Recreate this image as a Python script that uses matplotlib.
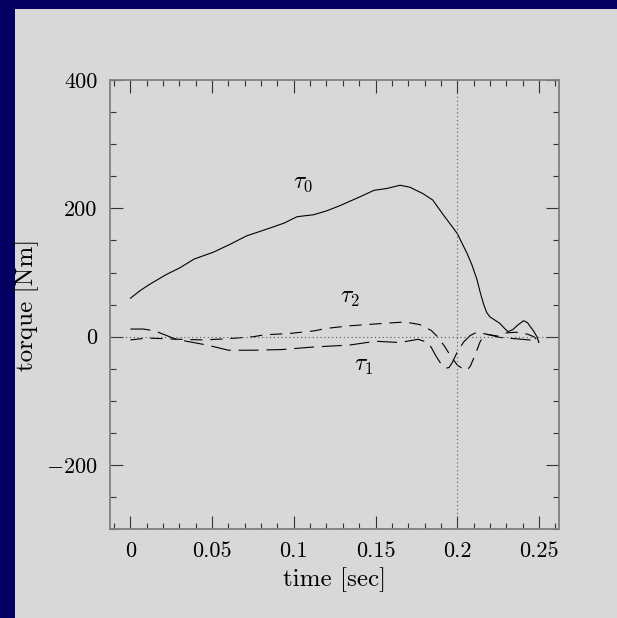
import numpy as np
import matplotlib.pyplot as plt
from matplotlib.patches import Rectangle
from matplotlib.ticker import MultipleLocator

plt.rcParams['font.family'] = ['cmr10', 'DejaVu Serif']
plt.rcParams['mathtext.fontset'] = 'cm'

# tau_0 (solid)
t0_time = [0, 0.006, 0.012, 0.022, 0.030, 0.039, 0.051, 0.061, 0.071, 0.085, 0.094,
           0.102, 0.112, 0.120, 0.128, 0.1405, 0.149, 0.157, 0.165, 0.171, 0.179,
           0.185, 0.1915, 0.200, 0.206, 0.209, 0.212, 0.214, 0.216, 0.218, 0.220,
           0.223, 0.226, 0.229, 0.231, 0.234, 0.237, 0.2406, 0.243, 0.2447, 0.247,
           0.2488, 0.250]
t0_vals = [60, 72, 82, 97, 107, 121, 132, 144, 157, 169, 177,
           187, 190, 196, 204, 218, 228, 231, 236, 233, 223,
           213, 190, 161, 130, 112, 90, 70, 52, 38, 31,
           26, 21, 13, 8, 11, 18, 25, 22, 16, 8,
           0, -9]

# tau_1 (long dash)
t1_time = [0, 0.008, 0.015, 0.028, 0.047, 0.060, 0.075, 0.0925, 0.112, 0.134, 0.150,
           0.165, 0.176, 0.181, 0.184, 0.187, 0.190, 0.193, 0.195, 0.197, 0.200,
           0.204, 0.208, 0.212, 0.218, 0.226, 0.235, 0.2488, 0.250]
t1_vals = [12, 12, 9, -4, -13, -21, -21, -20, -16, -13, -7,
           -9, -4, -8, -16, -30, -42, -49, -48, -40, -24,
           -8, 2, 7, 4, -1, -3, -6, -8]

# tau_2 (short dash)
t2_time = [0, 0.010, 0.030, 0.045, 0.060, 0.075, 0.082, 0.097, 0.112, 0.120, 0.134,
           0.145, 0.156, 0.168, 0.177, 0.184, 0.188, 0.192, 0.196, 0.200, 0.204,
           0.206, 0.208, 0.211, 0.214, 0.217, 0.220, 0.225, 0.230, 0.236, 0.243,
           0.247, 0.250]
t2_vals = [-5, -2, -4, -5, -3, 0, 3, 5, 9, 13, 17,
           19, 21, 23, 19, 10, 0, -14, -30, -44, -51,
           -52, -46, -28, -8, 4, 3, 1, 6, 7, 4,
           0, -8]

xticks = [0, 0.05, 0.1, 0.15, 0.2, 0.25]
xtick_labels = ["0", "0.05", "0.1", "0.15", "0.2", "0.25"]
yticks = [-200, 0, 200, 400]
ytick_labels = [r"$-$200", "0", "200", "400"]

fig = plt.figure(figsize=(6.17, 6.18), dpi=100, facecolor='#040062')
fig.add_artist(Rectangle((15 / 617, 0), 1, 1 - 9 / 618, transform=fig.transFigure,
                         facecolor='#d8d8d8', edgecolor='none', zorder=-10))
ax = fig.add_axes([0.1783, 0.1435, 0.7282, 0.7271])
ax.set_facecolor('#d8d8d8')

ax.plot(t0_time, t0_vals, color='black', lw=0.8)
ax.plot(t1_time, t1_vals, color='black', lw=0.8, dashes=(18, 7))
ax.plot(t2_time, t2_vals, color='black', lw=0.8, dashes=(11, 7))
ax.axhline(0, color='0.35', lw=0.8, ls=(0, (1, 2.5)))
ax.axvline(0.2, color='0.35', lw=0.8, ls=(0, (1, 2.5)))

ax.text(0.1055, 240, r'$\tau_0$', fontsize=17, ha='center', va='center')
ax.text(0.1345, 60, r'$\tau_2$', fontsize=17, ha='center', va='center')
ax.text(0.1425, -46, r'$\tau_1$', fontsize=17, ha='center', va='center')

ax.set_xlim(-0.0125, 0.2625)
ax.set_ylim(-300, 400)
ax.set_xticks(xticks)
ax.set_xticklabels(xtick_labels)
ax.set_yticks(yticks)
ax.set_yticklabels(ytick_labels)
ax.xaxis.set_minor_locator(MultipleLocator(0.01))
ax.yaxis.set_minor_locator(MultipleLocator(50))
ax.tick_params(which='both', direction='in', top=True, right=True,
               color='0.2', width=0.8, labelsize=16, pad=9)
ax.tick_params(which='major', length=9.5)
ax.tick_params(which='minor', length=4.5)
for s in ax.spines.values():
    s.set_color('0.5')
    s.set_linewidth(1.3)

ax.set_xlabel('time [sec]', fontsize=18, labelpad=4)
ax.set_ylabel('torque [Nm]', fontsize=18, labelpad=5)

fig.savefig('out.png', dpi=100, facecolor=fig.get_facecolor())
